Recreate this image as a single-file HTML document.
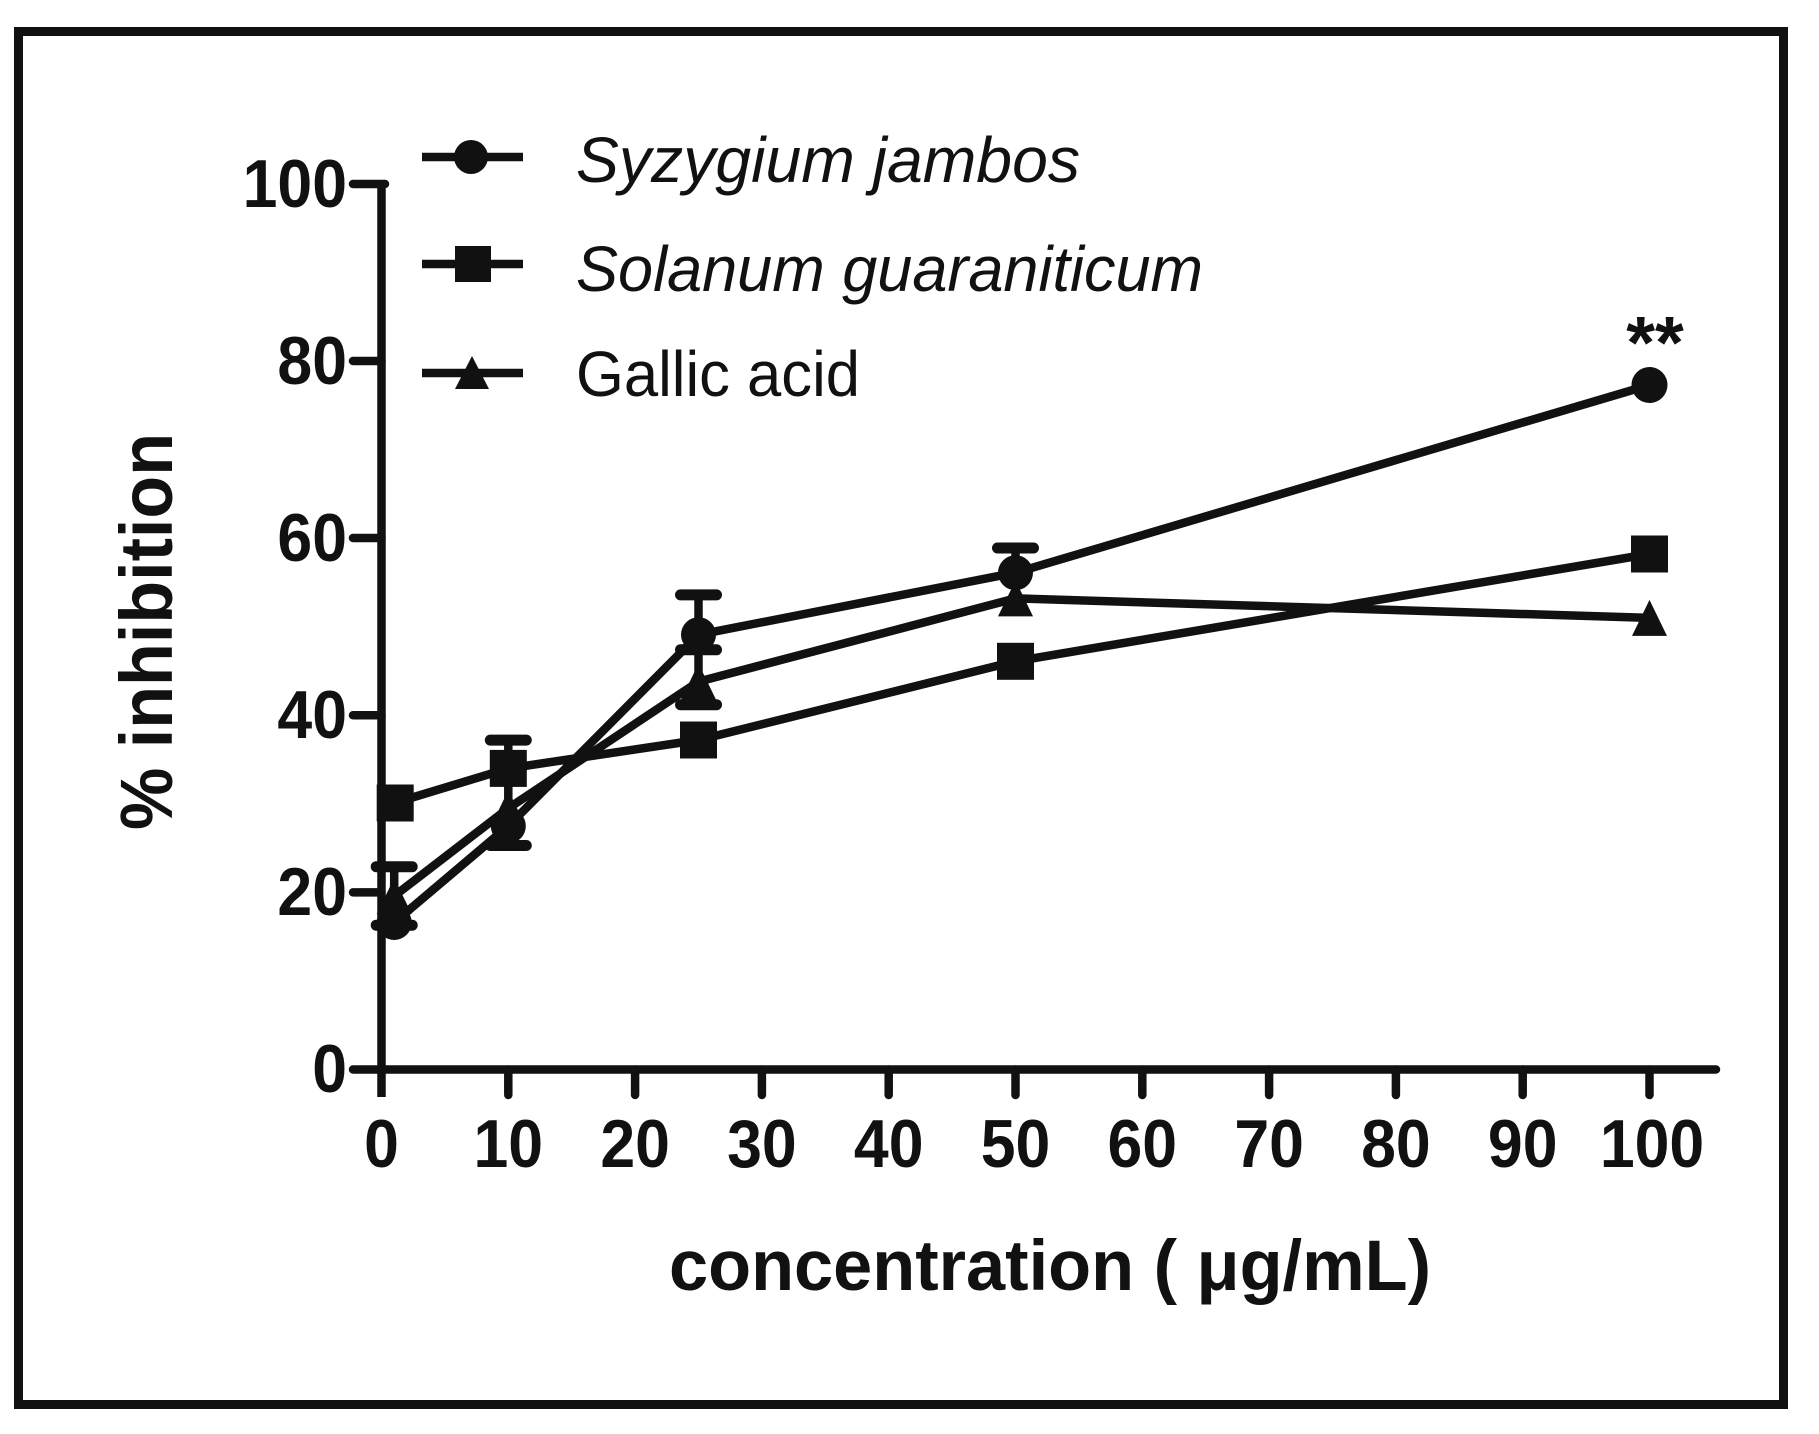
<!DOCTYPE html>
<html>
<head>
<meta charset="utf-8">
<style>
  html, body { margin:0; padding:0; background:#ffffff; }
  svg { display:block; }
  .tk { font-family:"Liberation Sans", Arial, sans-serif; font-weight:bold; font-size:68px; fill:#111; }
  .lg { font-family:"Liberation Sans", Arial, sans-serif; font-size:64px; fill:#111; }
  .ttl { font-family:"Liberation Sans", Arial, sans-serif; font-weight:bold; font-size:71px; fill:#111; }
</style>
</head>
<body>
<svg width="1819" height="1434" viewBox="0 0 1819 1434" xmlns="http://www.w3.org/2000/svg">
  <rect x="0" y="0" width="1819" height="1434" fill="#ffffff"/>
  <!-- outer frame -->
  <rect x="18.5" y="31.5" width="1765" height="1373" fill="none" stroke="#111" stroke-width="9"/>

  <g stroke="#111" stroke-width="8.5" fill="none">
    <!-- y axis -->
    <line x1="381.5" y1="180" x2="381.5" y2="1097"/>
    <!-- x axis -->
    <line x1="353" y1="1069.5" x2="1716" y2="1069.5" stroke-linecap="round"/>
    <!-- y ticks -->
    <line x1="353" y1="184" x2="385" y2="184" stroke-linecap="round"/>
    <line x1="353" y1="361" x2="381.5" y2="361" stroke-linecap="round"/>
    <line x1="353" y1="538" x2="381.5" y2="538" stroke-linecap="round"/>
    <line x1="353" y1="715.3" x2="381.5" y2="715.3" stroke-linecap="round"/>
    <line x1="353" y1="892.4" x2="381.5" y2="892.4" stroke-linecap="round"/>
    <!-- x ticks -->
    <line x1="508.3" y1="1069.5" x2="508.3" y2="1095" stroke-linecap="round"/>
    <line x1="635.1" y1="1069.5" x2="635.1" y2="1095" stroke-linecap="round"/>
    <line x1="761.9" y1="1069.5" x2="761.9" y2="1095" stroke-linecap="round"/>
    <line x1="888.7" y1="1069.5" x2="888.7" y2="1095" stroke-linecap="round"/>
    <line x1="1015.5" y1="1069.5" x2="1015.5" y2="1095" stroke-linecap="round"/>
    <line x1="1142.3" y1="1069.5" x2="1142.3" y2="1095" stroke-linecap="round"/>
    <line x1="1269.1" y1="1069.5" x2="1269.1" y2="1095" stroke-linecap="round"/>
    <line x1="1395.9" y1="1069.5" x2="1395.9" y2="1095" stroke-linecap="round"/>
    <line x1="1522.7" y1="1069.5" x2="1522.7" y2="1095" stroke-linecap="round"/>
    <line x1="1649.5" y1="1069.5" x2="1649.5" y2="1095" stroke-linecap="round"/>
  </g>

  <!-- y tick labels -->
  <g class="tk" text-anchor="end">
    <text transform="translate(347,207) scale(0.92,1)">100</text>
    <text transform="translate(347,384) scale(0.92,1)">80</text>
    <text transform="translate(347,561) scale(0.92,1)">60</text>
    <text transform="translate(347,738) scale(0.92,1)">40</text>
    <text transform="translate(347,915) scale(0.92,1)">20</text>
    <text transform="translate(347,1092) scale(0.92,1)">0</text>
  </g>
  <!-- x tick labels -->
  <g class="tk" text-anchor="middle">
    <text transform="translate(381.5,1167) scale(0.92,1)">0</text>
    <text transform="translate(508.3,1167) scale(0.92,1)">10</text>
    <text transform="translate(635.1,1167) scale(0.92,1)">20</text>
    <text transform="translate(761.9,1167) scale(0.92,1)">30</text>
    <text transform="translate(888.7,1167) scale(0.92,1)">40</text>
    <text transform="translate(1015.5,1167) scale(0.92,1)">50</text>
    <text transform="translate(1142.3,1167) scale(0.92,1)">60</text>
    <text transform="translate(1269.1,1167) scale(0.92,1)">70</text>
    <text transform="translate(1395.9,1167) scale(0.92,1)">80</text>
    <text transform="translate(1522.7,1167) scale(0.92,1)">90</text>
    <text transform="translate(1652,1167) scale(0.92,1)">100</text>
  </g>

  <!-- axis titles -->
  <text class="ttl" x="1050" y="1290" text-anchor="middle" textLength="762" lengthAdjust="spacingAndGlyphs">concentration ( μg/mL)</text>
  <text class="ttl" transform="translate(172,631.5) rotate(-90)" text-anchor="middle" textLength="397" lengthAdjust="spacingAndGlyphs" style="font-size:74px">% inhibition</text>

  <!-- error bars -->
  <g stroke="#111" stroke-width="8.5" fill="none">
    <line x1="394.2" y1="866.7" x2="394.2" y2="925.2"/>
    <line x1="508.3" y1="740.1" x2="508.3" y2="845.5"/>
    <line x1="698.5" y1="594.9" x2="698.5" y2="704.7"/>
    <line x1="1015.5" y1="548" x2="1015.5" y2="598"/>
  </g>
  <g stroke="#111" stroke-width="11" stroke-linecap="round" fill="none">
    <line x1="376.2" y1="866.7" x2="412.2" y2="866.7"/>
    <line x1="376.2" y1="925.2" x2="412.2" y2="925.2"/>
    <line x1="490.3" y1="740.1" x2="526.3" y2="740.1"/>
    <line x1="490.3" y1="845.5" x2="526.3" y2="845.5"/>
    <line x1="680.5" y1="594.9" x2="716.5" y2="594.9"/>
    <line x1="680.5" y1="649.8" x2="716.5" y2="649.8"/>
    <line x1="680.5" y1="704.7" x2="716.5" y2="704.7"/>
    <line x1="997.5" y1="548" x2="1033.5" y2="548"/>
  </g>

  <!-- series lines -->
  <g stroke="#111" stroke-width="8.5" fill="none" stroke-linejoin="round">
    <polyline points="394.2,922.5 508.3,826 698.5,634.7 1015.5,572.7 1649.5,385"/>
    <polyline points="394.2,803 508.3,768.4 698.5,740 1015.5,661.3 1649.5,554"/>
    <polyline points="394.2,896 508.3,808.3 698.5,681.6 1015.5,598.4 1649.5,617.9"/>
  </g>

  <!-- markers -->
  <g fill="#111">
    <!-- circles -->
    <circle cx="394.2" cy="922.5" r="17.5"/>
    <circle cx="508.3" cy="826" r="17.5"/>
    <circle cx="698.5" cy="634.7" r="17.5"/>
    <circle cx="1015.5" cy="572.7" r="17.5"/>
    <circle cx="1649.5" cy="385" r="18"/>
    <!-- squares -->
    <rect x="376.7" y="784.5" width="37" height="37"/>
    <rect x="489.8" y="749.9" width="37" height="37"/>
    <rect x="680" y="721.5" width="37" height="37"/>
    <rect x="997" y="642.8" width="37" height="37"/>
    <rect x="1631" y="535.5" width="37" height="37"/>
    <!-- triangles -->
    <polygon points="394.2,878 411.7,914 376.7,914"/>
    <polygon points="508.3,790.3 525.8,826.3 490.8,826.3"/>
    <polygon points="698.5,663.6 716,699.6 681,699.6"/>
    <polygon points="1015.5,580.4 1033,616.4 998,616.4"/>
    <polygon points="1649.5,599.9 1667,635.9 1632,635.9"/>
  </g>

  <!-- significance -->
  <text class="tk" x="1655" y="368" text-anchor="middle" style="font-size:74px">**</text>

  <!-- legend -->
  <g stroke="#111" stroke-width="8.5">
    <line x1="422" y1="157" x2="523" y2="157"/>
    <line x1="422" y1="264" x2="523" y2="264"/>
    <line x1="422" y1="373" x2="523" y2="373"/>
  </g>
  <g fill="#111">
    <circle cx="471" cy="157" r="17"/>
    <rect x="455" y="246" width="36" height="36"/>
    <polygon points="472,356 489,389 455,389"/>
  </g>
  <text class="lg" x="576" y="182" font-style="italic" textLength="504" lengthAdjust="spacingAndGlyphs">Syzygium jambos</text>
  <text class="lg" x="576" y="291" font-style="italic" textLength="627" lengthAdjust="spacingAndGlyphs">Solanum guaraniticum</text>
  <text class="lg" x="576" y="396" textLength="284" lengthAdjust="spacingAndGlyphs">Gallic acid</text>
</svg>
</body>
</html>
